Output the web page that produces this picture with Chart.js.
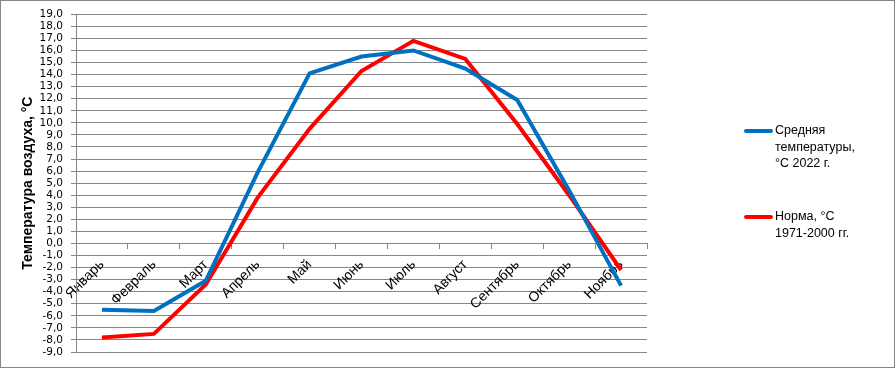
<!DOCTYPE html>
<html>
<head>
<meta charset="utf-8">
<script src="https://cdn.jsdelivr.net/npm/chart.js@4/dist/chart.umd.min.js"></script>
<style>
    html, body { margin: 0; padding: 0; background: #fff; }
    #wrap { width: 895px; height: 368px; }
</style>
</head>
<body>
<div id="wrap"><canvas id="tempChart" width="895" height="368"></canvas></div>
<script>
const months = ['Январь', 'Февраль', 'Март', 'Апрель', 'Май', 'Июнь', 'Июль', 'Август', 'Сентябрь', 'Октябрь', 'Ноябрь'];
const temp2022 = [-5.5, -5.6, -3.1, 5.9, 14.1, 15.5, 16.0, 14.5, 11.9, 4.4, -3.5];
const tempNorm = [-7.8, -7.5, -3.4, 3.8, 9.5, 14.3, 16.8, 15.3, 9.9, 4.0, -2.2];
const label2022 = ['Средняя', 'температуры,', '°С 2022 г.'];
const labelNorm = ['Норма, °С', '1971-2000 гг.'];
const yMin = -9, yMax = 19;

// legend + outer frame, drawn by hand (multi-line labels)
const sideLegend = {
    id: 'sideLegend',
    afterDraw(chart) {
        const ctx = chart.ctx;
        ctx.save();
        ctx.strokeStyle = '#868686';
        ctx.lineWidth = 1;
        ctx.strokeRect(0.5, 0.5, chart.width - 1, chart.height - 1);

        const items = [
            {color: chart.data.datasets[0].borderColor, lines: label2022, y: 131},
            {color: chart.data.datasets[1].borderColor, lines: labelNorm, y: 217}
        ];
        ctx.font = '12.5px "Liberation Sans", sans-serif';
        ctx.textBaseline = 'middle';
        ctx.fillStyle = '#000';
        items.forEach(item => {
            ctx.strokeStyle = item.color;
            ctx.lineWidth = 4;
            ctx.lineCap = 'round';
            ctx.beginPath();
            ctx.moveTo(746, item.y);
            ctx.lineTo(771, item.y);
            ctx.stroke();
            item.lines.forEach((t, i) => {
                ctx.fillText(t, 775, item.y + i * 16.5);
            });
        });
        ctx.restore();
    }
};

const ctx = document.getElementById('tempChart').getContext('2d');
new Chart(ctx, {
    type: 'line',
    data: {
        labels: months,
        datasets: [{
            label: label2022.join(' '),
            data: temp2022,
            borderColor: '#0070C0',
            borderWidth: 4,
            pointRadius: 0,
            tension: 0
        }, {
            label: labelNorm.join(' '),
            data: tempNorm,
            borderColor: '#FF0000',
            borderWidth: 4,
            pointRadius: 0,
            tension: 0
        }]
    },
    options: {
        responsive: false,
        animation: false,
        layout: {
            padding: {left: 0, right: 248, top: 14, bottom: 16}
        },
        scales: {
            x: {
                position: {y: 0},
                offset: true,
                grid: {
                    offset: true,
                    drawOnChartArea: false,
                    drawTicks: true,
                    tickLength: 5,
                    color: '#868686'
                },
                border: {color: '#868686'},
                ticks: {
                    autoSkip: false,
                    minRotation: 45,
                    maxRotation: 45,
                    padding: 8,
                    color: '#000',
                    font: {family: '"Liberation Sans", sans-serif', size: 14}
                }
            },
            y: {
                min: yMin,
                max: yMax,
                afterFit(scale) { scale.width = 76; },
                grid: {
                    color: '#868686',
                    tickLength: 5
                },
                border: {color: '#868686'},
                ticks: {
                    stepSize: 1,
                    autoSkip: false,
                    padding: 8,
                    color: '#000',
                    font: {family: '"DejaVu Sans", sans-serif', size: 10.5},
                    callback: v => v.toFixed(1).replace('.', ',')
                },
                title: {
                    display: true,
                    text: 'Температура воздуха, °С',
                    color: '#000',
                    padding: {top: 20, bottom: 0},
                    font: {family: '"Liberation Sans", sans-serif', size: 14, weight: 'bold'}
                }
            }
        },
        plugins: {
            legend: {display: false},
            tooltip: {enabled: false}
        }
    },
    plugins: [sideLegend]
});
</script>
</body>
</html>
